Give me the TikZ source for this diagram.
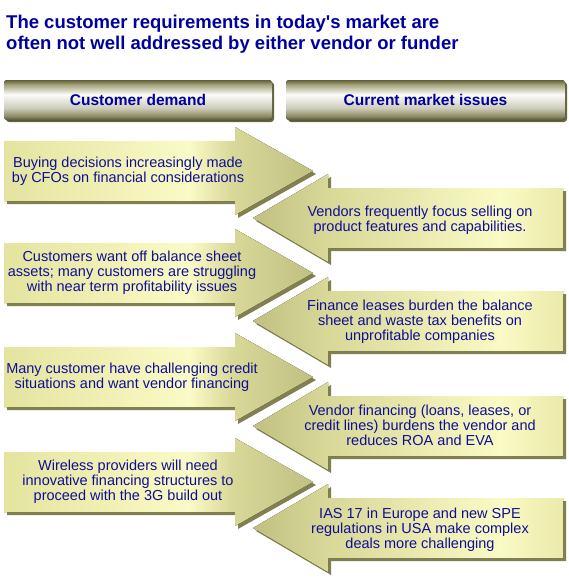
\documentclass[tikz,border=0pt]{standalone}
\usepackage{fontspec}
\setmainfont{Liberation Sans}
\newfontfamily\plainsans{Liberation Sans}[Ligatures=ResetAll]
\definecolor{titleblue}{RGB}{0,0,160}
\definecolor{txtblue}{RGB}{15,15,150}
\definecolor{olD}{RGB}{192,192,130}
\definecolor{olB}{RGB}{216,216,152}
\definecolor{olL}{RGB}{228,228,160}
\definecolor{olH}{RGB}{250,250,198}
\definecolor{olE}{RGB}{234,234,170}
\definecolor{olS}{RGB}{128,128,80}
\definecolor{hbA}{RGB}{96,96,58}
\definecolor{hbB}{RGB}{165,165,125}
\definecolor{hbC}{RGB}{252,252,250}
\definecolor{hbD}{RGB}{205,205,185}
\definecolor{hbE}{RGB}{140,140,105}
\definecolor{hbF}{RGB}{88,88,55}
\pgfdeclarehorizontalshading{rarrowshade}{100bp}{color(0bp)=(olL); color(25bp)=(olL); color(55bp)=(olH); color(62bp)=(olB); color(75bp)=(olD); color(100bp)=(olD)}
\pgfdeclarehorizontalshading{larrowshade}{100bp}{color(0bp)=(olD); color(25bp)=(olD); color(37bp)=(olB); color(65bp)=(olH); color(75bp)=(olE); color(100bp)=(olE)}
\pgfdeclareverticalshading{barshade}{100bp}{color(0bp)=(hbF); color(25bp)=(hbF); color(30bp)=(hbE); color(40bp)=(hbD); color(57bp)=(hbC); color(69bp)=(hbB); color(75bp)=(hbA); color(100bp)=(hbA)}
\tikzset{
  titletext/.style={anchor=base west, inner sep=0pt, text=titleblue, font=\plainsans\fontsize{18.5}{21}\selectfont\bfseries},
  bartext/.style={inner sep=0pt, text=titleblue, font=\fontsize{15.5}{18}\selectfont\bfseries},
  arrowtext/.style={inner sep=0pt, align=center, text=txtblue, font=\fontsize{14.5}{15}\selectfont},
  barfill/.style={shading=barshade, rounded corners=3pt},
  barshadow/.style={fill=olS!80!black, rounded corners=3pt},
  rfill/.style={shading=rarrowshade},
  lfill/.style={shading=larrowshade},
  ashadow/.style={fill=olS}
}
\begin{document}
\begin{tikzpicture}[x=1pt,y=-1pt]
\useasboundingbox (0,0) rectangle (568,578);
% title
\node[titletext] (t1) at (6,29) {The customer requirements in today's market are};
\node[titletext] (t2) at (6,50) {often not well addressed by either vendor or funder};
% header bars
\fill[barshadow] (6,82) rectangle (274,122);
\fill[barfill] (4,80) rectangle (272,120);
\fill[barshadow] (288,82) rectangle (567,122);
\fill[barfill] (286,80) rectangle (565,120);
\node[bartext] (h1) at (138,100) {Customer demand};
\node[bartext] (h2) at (425.5,100) {Current market issues};
% right-pointing arrows
\foreach \c in {171,273,377,482} {
  \fill[ashadow, shift={(3,3)}] (4,{\c-30}) -- (235,{\c-30}) -- (235,{\c-44}) -- (313,\c) -- (235,{\c+44}) -- (235,{\c+30}) -- (4,{\c+30}) -- cycle;
  \fill[rfill] (4,{\c-30}) -- (235,{\c-30}) -- (235,{\c-44}) -- (313,\c) -- (235,{\c+44}) -- (235,{\c+30}) -- (4,{\c+30}) -- cycle;
}
% left-pointing arrows
\foreach \c in {218,321,426,528} {
  \fill[ashadow, shift={(3,3)}] (563,{\c-30}) -- (328,{\c-30}) -- (328,{\c-44}) -- (253,\c) -- (328,{\c+44}) -- (328,{\c+30}) -- (563,{\c+30}) -- cycle;
  \fill[lfill] (563,{\c-30}) -- (328,{\c-30}) -- (328,{\c-44}) -- (253,\c) -- (328,{\c+44}) -- (328,{\c+30}) -- (563,{\c+30}) -- cycle;
}
% texts
\node[arrowtext] (d1) at (128,171) {Buying decisions increasingly made\\by CFOs on financial considerations};
\node[arrowtext] (d2) at (132,273) {Customers want off balance sheet\\assets; many customers are struggling\\with near term profitability issues};
\node[arrowtext] (d3) at (132,377) {Many customer have challenging credit\\situations and want vendor financing};
\node[arrowtext] (d4) at (128,482) {Wireless providers will need\\innovative financing structures to\\proceed with the 3G build out};
\node[arrowtext] (m1) at (420,220) {Vendors frequently focus selling on\\product features and capabilities.};
\node[arrowtext] (m2) at (420,322) {Finance leases burden the balance\\sheet and waste tax benefits on\\unprofitable companies};
\node[arrowtext] (m3) at (420,425) {Vendor financing (loans, leases, or\\credit lines) burdens the vendor and\\reduces ROA and EVA};
\node[arrowtext] (m4) at (420,530) {IAS 17 in Europe and new SPE\\regulations in USA make complex\\deals more challenging};
\end{tikzpicture}
\end{document}
